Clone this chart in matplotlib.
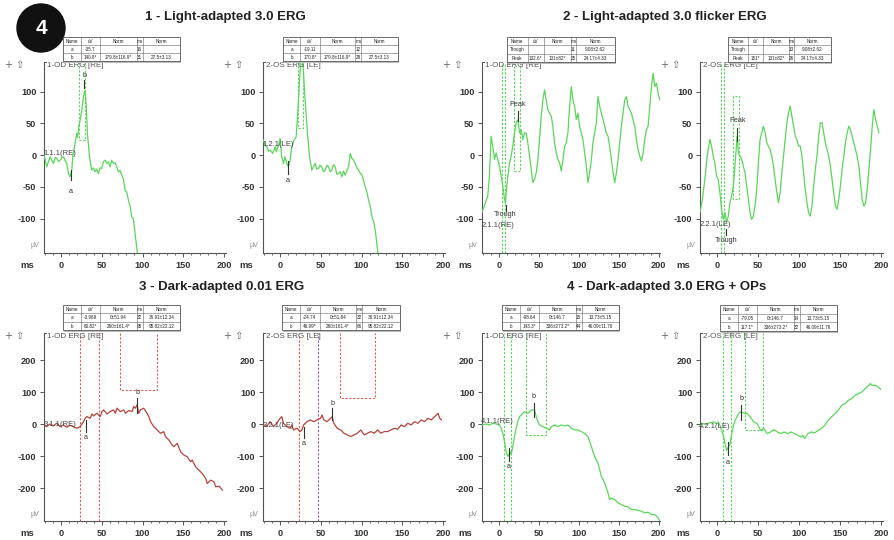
import matplotlib
matplotlib.use('Agg')
import matplotlib.pyplot as plt
from matplotlib.patches import Rectangle, Circle
from matplotlib.ticker import MultipleLocator, FixedLocator

W, H = 895, 540
plt.rcParams['font.family'] = ['Liberation Sans', 'DejaVu Sans']
plt.rcParams['axes.unicode_minus'] = False

# ---------------- data ----------------
titles = ["1 - Light-adapted 3.0 ERG", "2 - Light-adapted 3.0 flicker ERG",
          "3 - Dark-adapted 0.01 ERG", "4 - Dark-adapted 3.0 ERG + OPs"]
eye_labels = ["1-OD ERG [RE]", "2-OS ERG [LE]", "1-OD ERG [RE]", "2-OS ERG [LE]",
              "1-OD ERG [RE]", "2-OS ERG [LE]", "1-OD ERG [RE]", "2-OS ERG [LE]"]
channel_labels = ["1.1.1(RE)", "1.2.1(LE)", "2.1.1(RE)", "2.2.1(LE)",
                  "3.1.1(RE)", "3.2.1(LE)", "4.1.1(RE)", "4.2.1(LE)"]
channel_label_y = [3, 16, -110, -109, 0, -4, 8, -8]

xticks = [0, 50, 100, 150, 200]
yticks_row1 = [-100, -50, 0, 50, 100]
yticks_row2 = [-200, -100, 0, 100, 200]

la_od = [(-20.9, 0), (-19.5, -8), (-17.6, -18.4), (-15.5, -10), (-13.5, -2.6), (-11.5, -8),
         (-9.4, -13.1), (-7.3, -4), (-5.3, -5.2), (-3.2, -10), (-1.2, -7.9), (1, -4),
         (2.9, -2.6), (5, -9), (7.0, -13.1), (9.0, -28.9), (11.0, -34.1), (13.1, -23.6),
         (14.3, -2.6), (17.2, 18.4), (19.2, 34.1), (20.3, 28), (21.3, 42), (23.3, 55),
         (25.4, 70.9), (27.4, 91.9), (29.4, 102.4), (30.7, 81.4), (32.3, 34.1), (34.8, -2.6),
         (37.6, -23.6), (39.5, -20), (41.7, -26.2), (43.5, -22), (45.8, -28.9), (47.8, -20),
         (49.9, -21), (52, -10), (54.0, -7.9), (56.0, -13.1), (58.1, -10.5), (60.1, -18.4),
         (62, -8), (64.2, -13.1), (66.3, -12), (68.3, -18.4), (70.3, -26.2), (72.3, -24),
         (74.4, -31.5), (76.5, -38), (78.5, -55.1), (80.5, -58), (82.6, -70.9), (84.6, -80),
         (86.7, -97.1), (88.7, -100), (90.8, -123.4), (93.7, -155), (96, -175)]

la_os = [(-20.5, 23.7), (-18.5, 16), (-16.4, 13.2), (-14.3, 6), (-12.3, 7.9), (-9.0, 2.6),
         (-6.1, 13.2), (-4.5, 5), (-3.3, 10.5), (-1.5, 18), (0, 26.3), (2.0, -2.6),
         (4.1, -13.2), (6.1, -2.6), (8.2, -13.2), (10.2, -18.4), (12.3, -7.9), (14.3, 13.2),
         (17.2, 23.7), (19.7, 28.9), (21.3, 60.5), (23.0, 97.4), (24.6, 134.2), (26.6, 170),
         (28.7, 128.9), (30.7, 86.8), (33.6, 34.2), (36.1, -2.6), (38.9, -23.7), (41, -18),
         (43.0, -13.2), (45, -22), (47.1, -21), (49, -16), (51.2, -18.4), (53, -26),
         (55.3, -23.7), (57.5, -16), (59.4, -18.4), (61.5, -26), (63.5, -23.7), (65.5, -15),
         (67.6, -18.4), (69.6, -30), (71.7, -28.9), (73.7, -26), (75.8, -34.2), (77.8, -25),
         (79.9, -31.6), (82, -24), (84.0, -18.4), (86.1, 2.6), (88.1, -5.3), (90.2, -8),
         (92.2, -13.2), (94.2, -20), (96.3, -23.7), (98.3, -28), (100.4, -31.6), (102.4, -40),
         (104.5, -50), (106.5, -58), (108.6, -71), (110.6, -80), (112.7, -97.4), (114.7, -104),
         (116.8, -118.4), (120.1, -155), (122, -170)]

fl_od = [(-21.3, -90.1), (-18.0, -79.7), (-13.8, -64.1), (-11.7, -32.8), (-9.6, 29.7),
         (-7.5, 14.1), (-5.4, -6.8), (-3.3, 3.6), (-1.3, -6.8), (0.8, -17.2), (2.9, -32.8),
         (5.0, -48.4), (7.1, -69.3), (8.4, -76), (9.2, -58.9), (11.3, -32.8), (13.4, -12.0),
         (15.4, -1.6), (17.5, 14.1), (19.6, 34.9), (21.7, 50.5), (23.8, 55.7), (25.9, 34.9),
         (28.0, 40.1), (30.1, 24.5), (32.2, 34.9), (34.2, 34.9), (36.3, 19.3), (38.4, -1.6),
         (40.5, -22.4), (42.6, -43.2), (44.7, -38.0), (46.8, -27.6), (48.9, -6.8), (50.9, 24.5),
         (53.0, 60.9), (55.1, 86.9), (57.2, 102.6), (59.3, 86.9), (61.4, 71.2), (63.5, 66.0),
         (65.6, 60.9), (67.6, 45.3), (69.7, 19.3), (71.8, 3.6), (73.9, -6.8), (76.0, -12.0),
         (78.1, -25.0), (80.2, -6.8), (82.3, 14.1), (84.3, 19.3), (86.4, 34.9), (88.5, 76.6),
         (90.6, 107.8), (92.7, 86.9), (94.8, 76.6), (96.9, 55.7), (99.0, 66.0), (101.0, 45.3),
         (103.1, 34.9), (105.2, 24.5), (107.3, 3.6), (109.4, -17.2), (111.5, -43.2),
         (113.6, -27.6), (115.7, -6.8), (117.7, 19.3), (121.9, 50.5), (124.0, 92.2),
         (126.1, 76.6), (128.2, 66.0), (130.3, 55.7), (132.4, 45.3), (134.4, 34.9),
         (136.5, 29.7), (138.6, 14.1), (140.7, -6.8), (142.8, -27.6), (144.9, -43.2),
         (147.0, -27.6), (149.1, -6.8), (151.1, 19.3), (153.2, 45.3), (155.3, 66.0),
         (157.4, 86.9), (159.5, 92.2), (161.6, 76.6), (163.7, 71.4), (165.8, 66.0),
         (167.8, 55.7), (169.9, 45.3), (172.0, 24.5), (174.1, 8.9), (176.2, -1.6),
         (178.3, -9.4), (180.4, 3.6), (182.5, 24.5), (184.6, 40.1), (186.6, 45.3),
         (188.7, 76.6), (190.8, 107.8), (192.9, 128.6), (195.0, 107.8), (197.1, 113.0),
         (199.2, 97.4), (201.3, 86.9)]

fl_os = [(-21.2, -90.6), (-18.0, -69.6), (-15.1, -38.2), (-12.2, -1.0), (-9.0, 24.6),
         (-6.9, 14.1), (-4.9, -1.6), (-2.9, -12.0), (-0.8, -33.0), (1.2, -38.2), (3.3, -59.2),
         (5.3, -85.3), (7.3, -101), (9.4, -90.6), (11.4, -106.3), (13.5, -95.8), (15.5, -74.9),
         (17.6, -64.4), (19.6, -48.7), (21.6, -17.3), (23.7, 19.4), (24.5, 29.8), (25.7, 3.7),
         (27.8, -1.6), (29.8, -6.8), (31.8, -17.3), (33.9, -27.7), (35.9, -48.7), (38.0, -69.6),
         (40.0, -90.6), (42.0, -101), (44.1, -95.8), (46.1, -80.1), (48.2, -53.9), (50.2, -12.0),
         (52.2, 24.6), (56.3, 45.5), (58.4, 35.1), (60.4, 19.4), (62.4, 14.1), (64.5, 8.9),
         (66.5, -1.6), (68.6, -17.3), (70.6, -38.2), (72.7, -59.2), (74.7, -74.9), (76.7, -59.2),
         (78.8, -27.7), (80.8, -1.6), (82.9, 24.6), (84.9, 50.8), (86.9, 66.5), (89.0, 77.0),
         (91.0, 61.3), (93.1, 45.5), (95.1, 29.8), (97.1, 24.6), (99.2, 14.1), (101.2, 14.1),
         (103.3, -1.6), (105.3, -27.7), (107.3, -53.9), (109.4, -74.9), (111.4, -90.6),
         (113.5, -95.8), (115.5, -80.1), (117.6, -48.7), (119.6, -22.5), (121.6, -1.6),
         (123.7, 29.8), (125.7, 50.8), (127.8, 50.8), (129.8, 35.1), (131.8, 19.4),
         (133.9, 8.9), (135.9, -1.6), (138.0, -17.3), (140.0, -38.2), (142.0, -59.2),
         (144.1, -80.1), (146.1, -85.3), (148.2, -69.6), (150.2, -48.7), (152.2, -22.5),
         (154.3, -1.6), (156.3, 19.4), (158.4, 35.1), (160.4, 45.5), (162.4, 40.3),
         (164.5, 29.8), (166.5, 19.4), (168.6, 8.9), (170.6, -1.6), (172.7, -17.3),
         (174.7, -43.5), (176.7, -69.6), (178.8, -80.1), (180.8, -74.9), (182.9, -53.9),
         (184.9, -22.5), (187.0, 8.9), (189.0, 45.5), (191.0, 71.7), (193.1, 56.0),
         (195.1, 45.5), (197.1, 35.1)]

da_od = [(-20.9, -2.1), (-17.7, -7.3), (-13.6, 1.0), (-9.4, -5.2), (-5.3, 3.1), (-1.2, -7.3),
         (2.9, -2.1), (7.0, -9.4), (11.1, -3.1), (15.2, -7.3), (19.3, -12.5), (23.4, -7.3),
         (27.5, 8.4), (29.6, 18.8), (31.6, 24.0), (35.7, 18.8), (37.8, 32.4), (39.8, 26.1),
         (43.9, 34.5), (48.0, 24.0), (50.1, 39.7), (52.2, 44.9), (56.3, 32.4), (60.4, 39.7),
         (64.5, 44.9), (66.5, 34.5), (68.6, 50.1), (72.7, 39.7), (76.8, 44.9), (78.9, 34.5),
         (83.0, 42.8), (87.1, 39.7), (89.1, 55.4), (91.2, 50.1), (93.2, 60.6), (95.3, 34.5),
         (97.3, 44.9), (101.4, 50.1), (105.5, 34.5), (107.6, 24.0), (109.7, 8.4), (113.8, -7.3),
         (117.9, -17.8), (122.0, -28.2), (126.1, -23.0), (128.1, -38.6), (132.2, -49.1),
         (136.3, -64.8), (138.4, -70.0), (142.5, -59.5), (146.6, -85.6), (150.7, -96.1),
         (154.8, -101.3), (158.9, -117.0), (160.9, -111.7), (165.0, -132.6), (169.1, -143.1),
         (173.2, -153.5), (177.4, -169.2), (179.4, -184.9), (183.5, -174.4), (187.6, -179.6),
         (189.7, -195.3), (193.8, -193.2), (197.9, -205.7)]

da_os = [(-21.4, -2.1), (-16.5, -7.3), (-12.4, 8.3), (-8.2, -7.3), (-4.1, 3.1), (0, 18.7),
         (2.1, 23.8), (4.1, 3.1), (8.2, -7.3), (12.4, -12.4), (14.4, -2.1), (16.5, -17.6),
         (20.6, -12.4), (24.7, -22.8), (26.8, -17.6), (28.9, -2.1), (33.0, 8.3), (37.1, 13.5),
         (41.2, 8.3), (45.4, 13.5), (49.5, 18.7), (51.5, 29.0), (53.6, 13.5), (57.7, 8.3),
         (61.9, 18.7), (63.9, 23.8), (66.0, 3.1), (70.1, -12.4), (74.2, -17.6), (78.4, -28.0),
         (82.5, -33.2), (86.6, -38.3), (90.7, -33.2), (94.8, -28.0), (99.0, -17.6),
         (103.1, -33.2), (107.2, -28.0), (111.3, -22.8), (115.5, -28.0), (119.6, -17.6),
         (123.7, -28.0), (127.8, -22.8), (132.0, -22.8), (136.1, -17.6), (140.2, -12.4),
         (144.3, -15.5), (148.5, -2.1), (152.6, -7.3), (156.7, 3.1), (160.8, -2.1),
         (164.9, 8.3), (169.1, 3.1), (173.2, 13.5), (177.3, 8.3), (181.4, 18.7), (185.6, 13.5),
         (189.7, 23.8), (193.8, 34.2), (195.9, 18.7), (197.9, 13.5)]

ops_od = [(-21.3, -2.1), (-15.9, 1.0), (-11.7, -2.1), (-7.5, 3.1), (-3.3, 1.0), (0.8, -2.1),
          (2.9, -12.4), (5.0, -28.0), (7.1, -53.9), (9.2, -85.0), (11.3, -100.5), (12.5, -95.3),
          (14.2, -85.0), (15.4, -95.3), (17.5, -69.4), (19.6, -38.3), (21.7, -12.4), (23.8, 8.3),
          (25.9, 23.8), (30.1, 34.2), (32.2, 39.4), (36.3, 34.2), (40.5, 44.6), (44.7, 44.6),
          (46.8, 23.8), (48.9, 8.3), (50.9, -2.1), (55.1, -7.3), (59.3, -12.4), (63.5, -17.6),
          (65.6, -7.3), (69.7, -2.1), (73.9, -7.3), (78.1, -2.1), (82.3, -5.2), (86.4, -2.1),
          (90.6, -12.4), (94.8, -17.6), (99.0, -17.6), (103.1, -22.8), (107.3, -28.0),
          (111.5, -38.3), (115.7, -69.4), (119.8, -100.5), (124.0, -121.2), (128.2, -162.7),
          (132.4, -183.4), (136.5, -214.5), (138.6, -235.2), (140.7, -230.1), (144.9, -235.2),
          (149.1, -245.6), (153.2, -250.8), (157.4, -256.0), (161.6, -258.0), (165.8, -266.3),
          (169.9, -266.3), (174.1, -268.4), (178.3, -271.5), (182.5, -276.7), (186.6, -274.6),
          (190.8, -281.9), (195.0, -281.9), (199.2, -292.2), (201.3, -302.6)]

ops_os = [(-21.4, -3.1), (-17.3, 2.1), (-13.2, 0), (-9.1, 4.2), (-4.9, 7.3), (-0.8, 2.1),
          (1.2, 7.3), (3.3, -3.1), (5.4, -18.8), (7.4, -34.4), (9.5, -60.4), (11.5, -81.3),
          (13.6, -70.8), (15.7, -60.4), (17.7, -29.2), (19.8, -3.1), (21.9, 12.5), (23.9, 22.9),
          (26.0, 33.3), (28.0, 38.5), (32.2, 35.4), (36.3, 33.3), (40.4, 22.9), (44.5, 7.3),
          (48.7, 2.1), (50.7, -8.3), (52.8, -18.8), (56.9, -13.5), (61.0, -29.2), (65.2, -24.0),
          (69.3, -16.7), (73.4, -24.0), (77.5, -29.2), (81.6, -24.0), (85.8, -29.2),
          (89.9, -24.0), (94.0, -29.2), (98.1, -34.4), (102.3, -39.6), (104.3, -34.4),
          (106.4, -44.8), (110.5, -29.2), (114.6, -24.0), (118.8, -27.1), (122.9, -18.8),
          (127.0, -13.5), (131.1, -3.1), (135.3, 12.5), (139.4, 22.9), (143.5, 33.3),
          (147.6, 43.8), (151.8, 59.4), (155.9, 64.6), (160.0, 75.0), (164.1, 80.2),
          (168.2, 90.6), (172.4, 95.8), (176.5, 101.0), (180.6, 111.5), (184.7, 121.9),
          (186.8, 127.1), (188.9, 121.9), (193.0, 121.9), (197.1, 114.6), (199.2, 109.4)]

traces = [la_od, la_os, fl_od, fl_os, da_od, da_os, ops_od, ops_os]

# cursor windows: full-height dashed lines, and boxes (x1, x2, bottom, top or None)
cursor_lines = [[], [], [3.8, 7.9], [4.5, 8.6], [23.4, 46.8], [22.7, 46.2], [7.1, 15.4], [7.4, 16.5]]
cursor_boxes = [(22.1, 29.4, 23.6, None), (22.5, 28.7, 42, None), (18.4, 25.9, -25, None),
                (18.8, 26.9, -69.6, 92.7), (72.7, 117.9, 107.6, None), (73.0, 116.7, 82.9, None),
                (33.4, 58.5, -33, None), (33.4, 56.1, -16.7, None)]

# markers: (label, x, y_low, y_high, label_y)
markers = [
    [("a", 12.3, -39, -24, -58), ("b", 28.2, 105, 118, 126)],
    [("a", 9.4, -29, -10, -40)],
    [("Peak", 23.8, 53, 69, 79), ("Trough", 8.4, -88, -78, -93)],
    [("Peak", 24.5, 22, 43, 54), ("Trough", 10.6, -125, -117, -135)],
    [("a", 30.4, -23, 13.6, -42), ("b", 93.2, 34, 81, 99)],
    [("a", 28.9, -43, -7, -61), ("b", 63.9, 13, 50, 66)],
    [("a", 12.5, -116, -75, -132), ("b", 43.8, 24, 65, 86)],
    [("a", 12.8, -97, -55, -118), ("b", 29.3, 12, 59, 80)],
]

table_header = ["Name", "uV", "Norm", "ms", "Norm"]
tables = [
    [["a", "-35.7", "", "16", ""], ["b", "140.8*", "179.8±116.9*", "31", "27.5±3.13"]],
    [["a", "-19.11", "", "12", ""], ["b", "170.8*", "179.8±116.9*", "29", "27.5±3.13"]],
    [["Trough", "", "", "11", "9.08±2.62"], ["Peak", "132.6*", "131±82*", "25", "24.17±4.33"]],
    [["Trough", "", "", "13", "9.08±2.62"], ["Peak", "151*", "131±82*", "26", "24.17±4.33"]],
    [["a", "-3.969", "0±51.94", "32", "36.91±12.34"], ["b", "60.82*", "260±161.4*", "95", "95.82±22.12"]],
    [["a", "-24.74", "0±51.84", "32", "36.91±12.34"], ["b", "46.99*", "260±161.4*", "66", "95.82±22.12"]],
    [["a", "-98.64", "0±146.7", "15", "13.73±5.15"], ["b", "143.3*", "336±273.2*", "44", "46.09±11.76"]],
    [["a", "-79.05", "0±146.7", "14", "13.73±5.15"], ["b", "117.1*", "336±273.2*", "32", "46.09±11.76"]],
]

# ---------------- layout (pixels) ----------------
GREEN = '#5ad65a'
RED = '#b8433c'
RED_D = '#e0604e'
panel_left = [44, 263, 482, 700]
panel_w = [181.7, 181.7, 178.4, 182.9]
row_top = [62, 333]
row_bot = [253, 521]
row_ylim = [(-154, 146.5), (-302, 285)]
XLIM = (-21, 202)
table_box = [(63, 37, 180, 61), (283, 37, 398, 61), (507, 37, 615, 62), (728, 37, 831, 62),
             (63, 305, 180, 330), (282, 305, 400, 330), (502, 305, 619, 330), (720, 305, 837, 331)]
frac_std = [0.15, 0.17, 0.31, 0.05, 0.32]
frac_fl = [0.19, 0.15, 0.25, 0.05, 0.36]

fig = plt.figure(figsize=(W / 100, H / 100), dpi=100)

for i in range(8):
    r, c = divmod(i, 4)
    L, T, B, w = panel_left[c], row_top[r], row_bot[r], panel_w[c]
    ax = fig.add_axes([L / W, 1 - B / H, w / W, (B - T) / H])
    col = RED if r == 1 and c < 2 else GREEN
    dcol = RED_D if r == 1 and c < 2 else GREEN
    ylim = row_ylim[r]
    ax.set_xlim(*XLIM)
    ax.set_ylim(*ylim)
    tt = [p[0] for p in traces[i]]
    vv = [p[1] for p in traces[i]]
    ax.plot(tt, vv, color=col, lw=0.9, zorder=3)
    # cursor lines
    for k, xv in enumerate(cursor_lines[i]):
        lc = dcol
        if i == 5 and k == 1:
            lc = '#9b59b6'
        ax.axvline(xv, color=lc, lw=0.8, ls=(0, (2, 1.5)), zorder=2)
    x1, x2, yb, yt = cursor_boxes[i]
    if yt is None:
        ax.plot([x1, x1, x2, x2], [ylim[1], yb, yb, ylim[1]], color=dcol, lw=0.8,
                ls=(0, (2, 1.5)), zorder=2)
    else:
        ax.plot([x1, x1, x2, x2, x1], [yt, yb, yb, yt, yt], color=dcol, lw=0.8,
                ls=(0, (2, 1.5)), zorder=2)
    for lab, xm, y0, y1, ly in markers[i]:
        ax.plot([xm, xm], [y0, y1], color='#333333', lw=0.8, zorder=4)
        ax.text(xm, ly, lab, fontsize=5.2, color='#333333', ha='center', va='center', zorder=5)
    ax.text(XLIM[0] - 1, channel_label_y[i], channel_labels[i], fontsize=5.5, color='#444444',
            ha='left', va='center', zorder=5, clip_on=False)
    # axes style
    for s in ['top', 'right']:
        ax.spines[s].set_visible(False)
    for s in ['left', 'bottom']:
        ax.spines[s].set_color('#555555')
        ax.spines[s].set_linewidth(0.8)
    ax.set_facecolor('none')
    ax.xaxis.set_major_locator(FixedLocator(xticks))
    ax.xaxis.set_minor_locator(MultipleLocator(10))
    ax.yaxis.set_major_locator(FixedLocator(yticks_row1 if r == 0 else yticks_row2))
    ax.tick_params(axis='both', which='major', length=3, width=0.7, color='#555555',
                   labelsize=6.6, labelcolor='#333333', pad=2.5)
    ax.tick_params(axis='x', which='minor', length=1.6, width=0.6, color='#555555')
    for lbl in ax.get_xticklabels() + ax.get_yticklabels():
        lbl.set_fontweight('bold')
    # small top tick on spine
    ax.plot([0, 0.012], [1, 1], transform=ax.transAxes, color='#555555', lw=0.7, clip_on=False)
    ax.text(0.018, 1.0 - 3 / (B - T), eye_labels[i], transform=ax.transAxes, fontsize=5.8,
            color='#555555', ha='left', va='center')
    fig.text((L - 29) / W, 1 - (T + 3) / H, '+ ⇧', fontsize=7, color='#666666',
             ha='center', va='center', family=['DejaVu Sans'])
    fig.text((L - 5) / W, 1 - (B - 7) / H, 'µV', fontsize=5, color='#888888',
             ha='right', va='center')
    fig.text((L - 17) / W, 1 - (B + 12) / H, 'ms', fontsize=6.8, color='#333333',
             ha='center', va='center', fontweight='bold')

# overlay in pixel coordinates
ov = fig.add_axes([0, 0, 1, 1], zorder=10)
ov.set_xlim(0, W)
ov.set_ylim(H, 0)
ov.axis('off')
ov.patch.set_alpha(0)

title_pos = [(225, 17), (665, 17), (222, 287), (667, 287)]
for ttl, (xp, yp) in zip(titles, title_pos):
    ov.text(xp, yp, ttl, fontsize=9.5, fontweight='bold', ha='center', va='center', color='#222222')

ov.add_patch(Circle((41, 28), 24, color='#111111', zorder=5))
ov.text(41, 29, '4', color='white', fontsize=15, fontweight='bold', ha='center', va='center', zorder=6)

for i in range(8):
    l, t, rgt, b = table_box[i]
    fr = frac_fl if i in (2, 3) else frac_std
    ov.add_patch(Rectangle((l + 1.5, t + 1.5), rgt - l, b - t, fc='#bdbdbd', ec='none', zorder=7))
    ov.add_patch(Rectangle((l, t), rgt - l, b - t, fc='white', ec='#555555', lw=0.6, zorder=8))
    rows = [table_header] + tables[i]
    rh = (b - t) / len(rows)
    for k in range(1, len(rows)):
        ov.plot([l, rgt], [t + k * rh, t + k * rh], color='#666666', lw=0.4, zorder=9)
    xs = [l]
    for f in fr:
        xs.append(xs[-1] + f * (rgt - l))
    for k in range(1, len(xs) - 1):
        ov.plot([xs[k], xs[k]], [t, b], color='#666666', lw=0.4, zorder=9)
    for rr, row in enumerate(rows):
        for cc, cell in enumerate(row):
            ov.text((xs[cc] + xs[cc + 1]) / 2, t + (rr + 0.55) * rh, cell, fontsize=3.3,
                    ha='center', va='center', color='#222222', zorder=10)

fig.savefig('out.png', dpi=100, facecolor='white')
